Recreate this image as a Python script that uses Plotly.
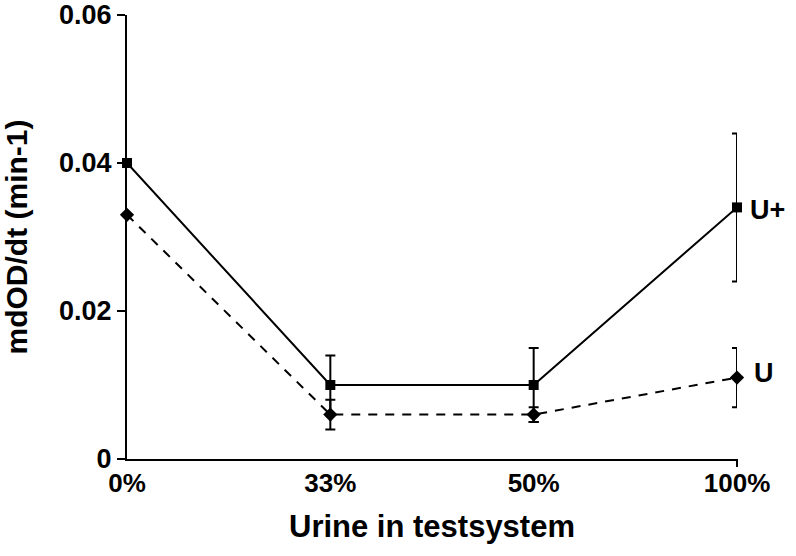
import plotly.graph_objects as go

categories = ["0%", "33%", "50%", "100%"]
u_plus = [0.040, 0.010, 0.010, 0.034]
u_plus_err = [0.0, 0.004, 0.005, 0.010]
u = [0.033, 0.006, 0.006, 0.011]
u_err = [0.0, 0.002, 0.001, 0.004]
y_ticks = [0, 0.02, 0.04, 0.06]
y_tick_labels = ["0", "0.02", "0.04", "0.06"]

FONT = "Liberation Sans, Arial, sans-serif"

fig = go.Figure()
fig.add_trace(go.Scatter(
    x=categories, y=u_plus, mode="lines+markers", name="U+",
    line=dict(color="black", width=2),
    marker=dict(symbol="square", size=10, color="black"),
    error_y=dict(type="data", array=u_plus_err, visible=True, color="black", thickness=2, width=5),
    cliponaxis=False,
))
fig.add_trace(go.Scatter(
    x=categories, y=u, mode="lines+markers", name="U",
    line=dict(color="black", width=2, dash="9px,8px"),
    marker=dict(symbol="diamond", size=11, color="black"),
    error_y=dict(type="data", array=u_err, visible=True, color="black", thickness=2, width=5),
    cliponaxis=False,
))

fig.add_annotation(x=categories[-1], y=u_plus[-1], text="<b>U+</b>", showarrow=False,
                   xanchor="left", xshift=11, yshift=-3, font=dict(size=27, color="black", family=FONT))
fig.add_annotation(x=categories[-1], y=u[-1], text="<b>U</b>", showarrow=False,
                   xanchor="left", xshift=15, yshift=5, font=dict(size=27, color="black", family=FONT))

fig.add_shape(type="line", xref="paper", yref="paper", x0=1, x1=1, y0=0, y1=-8/444,
              line=dict(color="black", width=2))

fig.update_layout(
    width=796, height=556,
    margin=dict(l=127, r=59, t=15, b=97),
    paper_bgcolor="white", plot_bgcolor="white",
    showlegend=False,
    font=dict(family=FONT, color="black"),
)
fig.update_xaxes(
    type="category", categoryarray=categories, range=[0, 3], automargin=False,
    showline=True, linecolor="black", linewidth=2,
    showgrid=False, zeroline=False, ticks="",
    tickfont=dict(size=26, family=FONT, weight="bold"),
    title=dict(text="<b>Urine in testsystem</b>", font=dict(size=31, family=FONT), standoff=18),
)
fig.update_yaxes(
    range=[0, 0.06], tickvals=y_ticks, ticktext=y_tick_labels, automargin=False,
    ticklabeloverflow="allow",
    showline=True, linecolor="black", linewidth=2,
    showgrid=False, zeroline=False, ticks="outside", ticklen=8, tickwidth=2, tickcolor="black",
    tickfont=dict(size=27, family=FONT, weight="bold"),
    title=dict(text="<b>mdOD/dt (min-1)</b>", font=dict(size=30, family=FONT), standoff=24),
)

fig.write_html("out.html", config={"displayModeBar": False},
               post_script="document.body.style.margin='0';document.body.style.padding='0';")
